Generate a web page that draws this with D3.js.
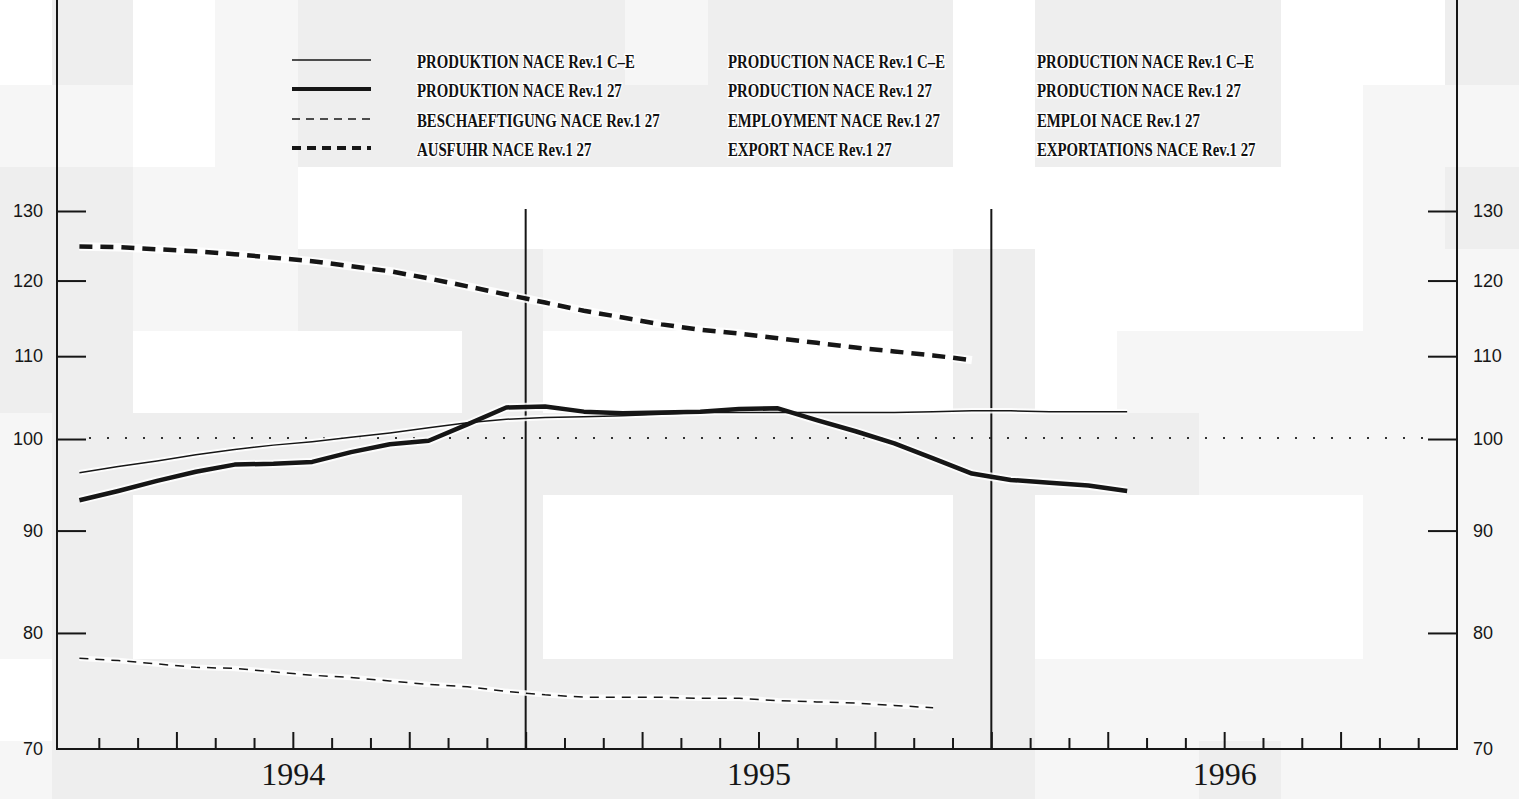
<!DOCTYPE html>
<html>
<head>
<meta charset="utf-8">
<script src="https://cdn.jsdelivr.net/npm/d3@7"></script>
<style>
  html, body { margin: 0; padding: 0; background: #ffffff; }
  svg { display: block; }
</style>
</head>
<body>
<svg id="chart" width="1519" height="799"></svg>
<script>
// ---------------- DATA ----------------
const periods = [
  "1994-01","1994-02","1994-03","1994-04","1994-05","1994-06","1994-07","1994-08","1994-09","1994-10","1994-11","1994-12",
  "1995-01","1995-02","1995-03","1995-04","1995-05","1995-06","1995-07","1995-08","1995-09","1995-10","1995-11","1995-12",
  "1996-01","1996-02","1996-03","1996-04"
];
const years = ["1994", "1995", "1996"];
const yTicks = [70, 80, 90, 100, 110, 120, 130];

// PRODUKTION NACE Rev.1 C-E
const prodCE = [96.2, 96.9, 97.5, 98.2, 98.8, 99.3, 99.7, 100.2, 100.7, 101.3, 101.9, 102.3,
                102.5, 102.6, 102.7, 102.9, 103.1, 103.1, 103.1, 103.1, 103.1, 103.1, 103.2, 103.3,
                103.3, 103.2, 103.2, 103.2];
// PRODUKTION NACE Rev.1 27
const prod27 = [93.2, 94.2, 95.3, 96.3, 97.1, 97.2, 97.4, 98.5, 99.4, 99.8, 101.7, 103.7,
                103.8, 103.2, 103.0, 103.1, 103.2, 103.5, 103.6, 102.2, 100.9, 99.5, 97.8, 96.1,
                95.4, 95.1, 94.8, 94.2];
// BESCHAEFTIGUNG NACE Rev.1 27
const employment = [77.7, 77.5, 77.2, 76.9, 76.8, 76.5, 76.2, 76.0, 75.7, 75.4, 75.2, 74.8,
                    74.5, 74.3, 74.3, 74.3, 74.2, 74.2, 74.0, 73.9, 73.8, 73.6, 73.4];
// AUSFUHR NACE Rev.1 27
const exportVals = [124.8, 124.7, 124.4, 124.1, 123.7, 123.2, 122.7, 122.0, 121.3, 120.3, 119.2, 118.1,
                    117.0, 115.9, 115.0, 114.1, 113.4, 112.9, 112.3, 111.7, 111.1, 110.6, 110.1, 109.5];

const legendDE = ["PRODUKTION NACE Rev.1 C\u2013E", "PRODUKTION NACE Rev.1 27", "BESCHAEFTIGUNG NACE Rev.1 27", "AUSFUHR NACE Rev.1 27"];
const legendEN = ["PRODUCTION NACE Rev.1 C\u2013E", "PRODUCTION NACE Rev.1 27", "EMPLOYMENT NACE Rev.1 27", "EXPORT NACE Rev.1 27"];
const legendFR = ["PRODUCTION NACE Rev.1 C\u2013E", "PRODUCTION NACE Rev.1 27", "EMPLOI NACE Rev.1 27", "EXPORTATIONS NACE Rev.1 27"];

// ---------------- STYLES ----------------
const seriesList = [prodCE, prod27, employment, exportVals];
const seriesStyle = [
  { width: 1.5, dash: null },
  { width: 4.5, dash: null },
  { width: 1.5, dash: "9,7" },
  { width: 4.5, dash: "13,8" }
];

// scanned-paper background shading (decorative)
const colEdges = [0,52,133,215,298,380,462,543,625,708,790,871,953,1035,1117,1199,1281,1363,1445,1519];
const rowEdges = [0,85,167,249,331,413,495,577,659,741,799];
const shadeRows = [
  "wgwlgggglgggwgggwwg",
  "llwlggggggggwgggwll",
  "ggllwwwwwwwwwwwwwlg",
  "ggllggglllllgwwwwll",
  "ggwwwwgwwwwwgwlllll",
  "lggggggggggggggllll",
  "lgwwwwgwwwwwgwwwwll",
  "lgwwwwgwwwwwgwwwwll",
  "wggggggggggggllllll",
  "lggggggggggggllglll"
];
const shadeColor = { w: "#ffffff", l: "#f6f6f6", g: "#eeeeee" };

// ---------------- LAYOUT ----------------
const svg = d3.select("#chart");
const left = 57, right = 1457, bottom = 749, top130 = 211;
const ink = "#161616";

const x = d3.scaleLinear().domain([0, 36]).range([60, right]);
const y = d3.scaleLog().domain([70, 130]).range([bottom, top130]);

// background
const bg = svg.append("g");
shadeRows.forEach((row, r) => {
  row.split("").forEach((c, ci) => {
    bg.append("rect")
      .attr("x", colEdges[ci]).attr("y", rowEdges[r])
      .attr("width", colEdges[ci + 1] - colEdges[ci])
      .attr("height", rowEdges[r + 1] - rowEdges[r])
      .attr("fill", shadeColor[c]);
  });
});

// frame
const frame = svg.append("g").attr("stroke", ink).attr("stroke-width", 2).attr("fill", "none");
frame.append("line").attr("x1", left).attr("x2", left).attr("y1", 0).attr("y2", bottom + 1);
frame.append("line").attr("x1", right).attr("x2", right).attr("y1", 0).attr("y2", bottom + 1);
frame.append("line").attr("x1", left).attr("x2", right).attr("y1", bottom).attr("y2", bottom);

// y axes
const yAxisL = d3.axisLeft(y).tickValues(yTicks).tickFormat(d3.format("d"))
  .tickSizeInner(-29).tickSizeOuter(0).tickPadding(14);
const yAxisR = d3.axisRight(y).tickValues(yTicks).tickFormat(d3.format("d"))
  .tickSizeInner(-29).tickSizeOuter(0).tickPadding(16);

function styleY(g) {
  g.select(".domain").remove();
  g.selectAll(".tick line").attr("stroke", ink).attr("stroke-width", 2);
  g.selectAll(".tick text")
    .attr("fill", ink)
    .style("font-family", "'Liberation Sans', Arial, sans-serif")
    .style("font-size", "18px");
  g.selectAll(".tick").filter(d => d === 70).select("line").remove();
}
svg.append("g").attr("transform", `translate(${left},0)`).call(yAxisL).call(styleY);
svg.append("g").attr("transform", `translate(${right},0)`).call(yAxisR).call(styleY);

// month ticks on bottom axis
const monthTicks = d3.range(1, 36);
const xAxis = d3.axisBottom(x).tickValues(monthTicks).tickFormat("").tickSizeInner(-11).tickSizeOuter(0);
const gx = svg.append("g").attr("transform", `translate(0,${bottom})`).call(xAxis);
gx.select(".domain").remove();
gx.selectAll(".tick line").attr("stroke", ink).attr("stroke-width", 2)
  .filter(d => d % 3 === 0).attr("y2", -17);

// year labels
const yearAxis = d3.axisBottom(x).tickValues(years.map((_, i) => 6 + 12 * i))
  .tickFormat((d, i) => years[i]).tickSize(0).tickPadding(13);
const gy = svg.append("g").attr("transform", `translate(0,${bottom})`).call(yearAxis);
gy.select(".domain").remove();
gy.selectAll(".tick text")
  .attr("fill", ink)
  .style("font-family", "'Liberation Serif', 'Times New Roman', serif")
  .style("font-size", "32px");

// year separators
svg.append("g").selectAll("line").data([12, 24]).join("line")
  .attr("x1", d => x(d)).attr("x2", d => x(d))
  .attr("y1", y(130) - 2).attr("y2", bottom)
  .attr("stroke", ink).attr("stroke-width", 2);

// dotted 100 reference line
svg.append("line")
  .attr("x1", left + 32).attr("x2", right - 29)
  .attr("y1", y(100) - 1).attr("y2", y(100) - 1)
  .attr("stroke", "#333").attr("stroke-width", 2.2)
  .attr("stroke-dasharray", "2,16");

// series
const line = d3.line().x((d, i) => x(i + 0.5)).y(d => y(d));
const lines = svg.append("g");
seriesList.forEach((s, k) => {
  lines.append("path").datum(s)
    .attr("d", line).attr("fill", "none")
    .attr("stroke", "#ffffff").attr("stroke-opacity", 0.85)
    .attr("stroke-width", seriesStyle[k].width + 4)
    .attr("stroke-linejoin", "round");
});
seriesList.forEach((s, k) => {
  lines.append("path").datum(s)
    .attr("d", line).attr("fill", "none")
    .attr("stroke", ink)
    .attr("stroke-width", seriesStyle[k].width)
    .attr("stroke-linejoin", "round")
    .attr("stroke-dasharray", seriesStyle[k].dash);
});

// legend
const legRowY = [60, 89, 119, 148];
const legend = svg.append("g");
legRowY.forEach((ly, i) => {
  legend.append("line")
    .attr("x1", 292).attr("x2", 371).attr("y1", ly).attr("y2", ly)
    .attr("stroke", ink).attr("stroke-width", seriesStyle[i].width - (i % 2 ? 0.5 : 0))
    .attr("stroke-dasharray", seriesStyle[i].dash ? (i === 2 ? "8,6" : "9,6") : null);
});
const textCols = [[417, legendDE], [728, legendEN], [1037, legendFR]];
textCols.forEach(([tx, labels]) => {
  labels.forEach((t, i) => {
    legend.append("text")
      .attr("transform", `translate(${tx},${legRowY[i] + 8}) scale(0.78,1)`)
      .text(t)
      .attr("fill", "#111")
      .attr("stroke", "#ffffff").attr("stroke-width", 3).attr("paint-order", "stroke")
      .style("font-family", "'Liberation Serif', 'Times New Roman', serif")
      .style("font-weight", "bold")
      .style("font-size", "19px");
  });
});
</script>
</body>
</html>
